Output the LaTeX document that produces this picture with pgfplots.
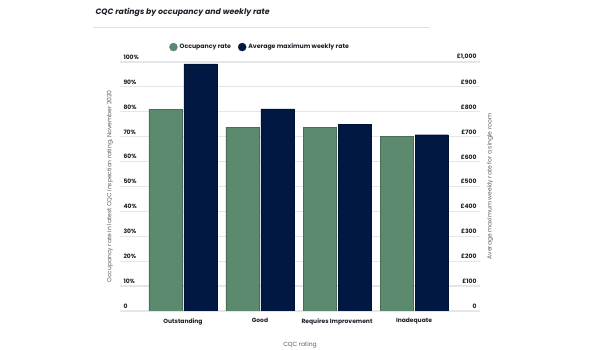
\documentclass[border=0pt]{standalone}
\usepackage{pgfplots}
\pgfplotsset{compat=1.18}
\usepackage{fontspec}
\setmainfont{Poppins}
\definecolor{occ}{RGB}{91,138,110}
\definecolor{navy}{RGB}{0,24,66}
\definecolor{gridc}{RGB}{228,230,232}
\definecolor{txt}{RGB}{30,30,40}
\definecolor{lab}{RGB}{90,90,100}
\definecolor{rule}{RGB}{220,226,232}
\pgfplotsset{
  common/.style={
    at={(120pt,39pt)}, anchor=south west,
    scale only axis, width=360pt, height=249pt,
    xmin=-0.818, xmax=3.857,
    ymin=0,
    axis line style={draw=none},
    major tick length=0pt,
    tick style={draw=none},
    ybar, bar width=33pt,
    /pgf/number format/assume math mode=true,
    ticklabel style={font=\fontsize{6}{7}\selectfont\bfseries, text=txt},
    label style={font=\fontsize{6}{7}\selectfont, text=lab},
    xtick={0,1,2,3},
  },
}
\begin{document}
\begin{tikzpicture}[x=1pt,y=1pt]
\useasboundingbox (0,0) rectangle (600,350);
\node[anchor=west, font=\fontsize{7.8}{9}\selectfont\bfseries\itshape, text=txt] at (92,338) {CQC ratings by occupancy and weekly rate};
\draw[rule, line width=0.8pt] (93,323) -- (430,323);
\begin{axis}[common,
  ymax=100,
  ytick={0,10,...,100},
  yticklabels={0,10\%,20\%,30\%,40\%,50\%,60\%,70\%,80\%,90\%,100\%},
  ymajorgrids, grid style={gridc, line width=1.2pt},
  yticklabel style={anchor=south west, xshift=0pt, yshift=-1pt},
  xticklabels={Outstanding,Good,Requires Improvement,Inadequate},
  xticklabel style={yshift=-4pt},
  ylabel={Occupancy rate in latest CQC inspection rating, November 2020},
  ylabel style={at={(axis description cs:-0.028,0.5)}, anchor=center},
  xlabel={CQC rating},
  xlabel style={at={(axis description cs:0.5,-0.137)}, anchor=center},
  legend style={at={(axis description cs:0.389,1.06)}, anchor=center, draw=none, fill=none,
    legend columns=2, font=\fontsize{6.2}{7}\selectfont\bfseries, text=txt,
    /tikz/every even column/.append style={column sep=5pt}},
]
\addplot[fill=occ, draw=occ!80!black, line width=0.4pt, bar shift=-17.5pt,
  legend image code/.code={\fill[occ] (0.1cm,0) circle (4pt);}]
  coordinates {(0,81) (1,73.8) (2,73.8) (3,70)};
\addlegendentry{Occupancy rate}
\addlegendimage{legend image code/.code={\fill[navy] (0.1cm,0) circle (4pt);}}
\addlegendentry{Average maximum weekly rate}
\end{axis}
\begin{axis}[common,
  ymax=1000,
  ytick={0,100,...,1000},
  yticklabels={0,\pounds100,\pounds200,\pounds300,\pounds400,\pounds500,\pounds600,\pounds700,\pounds800,\pounds900,{\pounds1,000}},
  yticklabel pos=right,
  yticklabel style={anchor=south east, xshift=0pt, yshift=-1pt},
  xticklabels={},
  ylabel={Average maximum weekly rate for a single room},
  ylabel style={at={(axis description cs:1.028,0.5)}, anchor=center},
]
\addplot[fill=navy, draw=navy!80!black, line width=0.4pt, bar shift=17.5pt]
  coordinates {(0,992) (1,812) (2,750) (3,708)};
\end{axis}
\end{tikzpicture}
\end{document}
